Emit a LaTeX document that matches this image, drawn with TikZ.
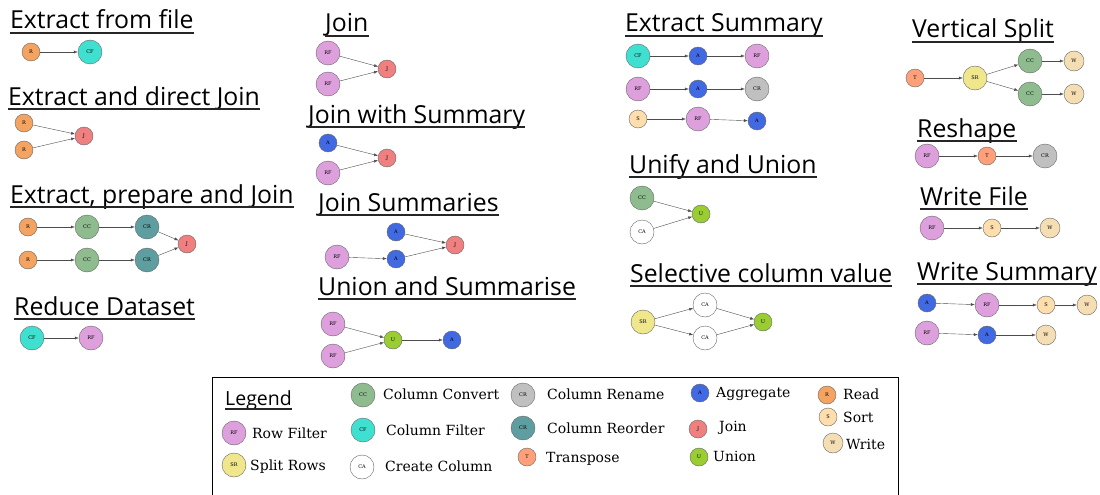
\documentclass[tikz,border=0pt]{standalone}
\usepackage{fontspec}
\setmainfont{DejaVu Serif}
\newfontfamily\headfont{Open Sans}
\usetikzlibrary{arrows.meta}
\definecolor{readC}{RGB}{244,164,96}
\definecolor{filterC}{RGB}{64,224,208}
\definecolor{joinC}{RGB}{240,128,128}
\definecolor{convC}{RGB}{143,188,143}
\definecolor{reordC}{RGB}{95,158,160}
\definecolor{rowC}{RGB}{221,160,221}
\definecolor{aggC}{RGB}{65,105,225}
\definecolor{unionC}{RGB}{154,205,50}
\definecolor{renC}{RGB}{192,192,192}
\definecolor{sortC}{RGB}{255,222,173}
\definecolor{writeC}{RGB}{245,222,179}
\definecolor{transC}{RGB}{255,160,122}
\definecolor{splitC}{RGB}{240,230,140}
\newcommand{\Heading}[5]{%
  \node[heading, font=\headfont\fontsize{#5}{#5}\selectfont] (#1) at (#2,#3) {#4};
  \draw[uline] ([yshift=-4pt]#1.base west) -- ([yshift=-4pt]#1.base east);}

\begin{document}
\begin{tikzpicture}[x=1pt, y=-1pt,
    heading/.style={anchor=base west, inner sep=0pt},
    uline/.style={line width=1.6pt, black!85},
    op/.style={circle, draw=black!60, line width=0.4pt, inner sep=0pt, font=\fontsize{5}{5}\selectfont},
    big/.style={op, minimum size=24pt},
    small/.style={op, minimum size=18pt},
    nR/.style={small, fill=readC},
    nCF/.style={big, fill=filterC},
    nJ/.style={small, fill=joinC},
    nCC/.style={big, fill=convC},
    nCRt/.style={big, fill=reordC},
    nCRg/.style={big, fill=renC},
    nRF/.style={big, fill=rowC},
    nA/.style={small, fill=aggC},
    nU/.style={small, fill=unionC},
    nS/.style={small, fill=sortC},
    nW/.style={op, minimum size=20pt, fill=writeC},
    nT/.style={small, fill=transC},
    nSR/.style={big, fill=splitC},
    nCA/.style={big, fill=white},
    flow/.style={-{Latex[length=4pt,width=3pt]}, black!70, line width=0.4pt},
    key/.style={anchor=base west, inner sep=0pt, font=\fontsize{14}{16}\selectfont}]
\useasboundingbox (0,0) rectangle (1100,495);

% left column
\Heading{h1}{10}{29}{Extract from file}{24.8}
\node[nR] (ef1) at (31,52) {R};
\node[nCF] (ef2) at (90,52) {CF};
\draw[flow] (ef1) -- (ef2);

\Heading{h2}{8}{105}{Extract and direct Join}{24.8}
\node[nR] (ej1) at (24,123) {R};
\node[nR] (ej2) at (24,150) {R};
\node[nJ] (ej3) at (84,136) {J};
\draw[flow] (ej1) -- (ej3);
\draw[flow] (ej2) -- (ej3);

\Heading{h3}{10}{203}{Extract, prepare and Join}{24.8}
\node[nR] (ep1) at (28,227) {R};
\node[nCC] (ep2) at (87,227) {CC};
\node[nCRt] (ep3) at (147,227) {CR};
\node[nR] (ep4) at (28,260) {R};
\node[nCC] (ep5) at (87,260) {CC};
\node[nCRt] (ep6) at (147,260) {CR};
\node[nJ] (ep7) at (187,244) {J};
\draw[flow] (ep1) -- (ep2);
\draw[flow] (ep2) -- (ep3);
\draw[flow] (ep4) -- (ep5);
\draw[flow] (ep5) -- (ep6);
\draw[flow] (ep3) -- (ep7);
\draw[flow] (ep6) -- (ep7);

\Heading{h4}{14}{315}{Reduce Dataset}{24.8}
\node[nCF] (rd1) at (32,338) {CF};
\node[nRF] (rd2) at (91,338) {RF};
\draw[flow] (rd1) -- (rd2);

% second column
\Heading{h5}{325}{32}{Join}{24.8}
\node[nRF] (jo1) at (328,53) {RF};
\node[nRF] (jo2) at (328,84) {RF};
\node[nJ] (jo3) at (387,69) {J};
\draw[flow] (jo1) -- (jo3);
\draw[flow] (jo2) -- (jo3);

\Heading{h6}{308}{123}{Join with Summary}{24.8}
\node[nA] (js1) at (328,143) {A};
\node[nRF] (js2) at (328,173) {RF};
\node[nJ] (js3) at (387,158) {J};
\draw[flow] (js1) -- (js3);
\draw[flow] (js2) -- (js3);

\Heading{h7}{318}{211}{Join Summaries}{24.8}
\node[nRF] (jm1) at (337,257) {RF};
\node[nA] (jm2) at (396,232) {A};
\node[nA] (jm3) at (396,259) {A};
\node[nJ] (jm4) at (455,245) {J};
\draw[flow] (jm1) -- (jm3);
\draw[flow] (jm2) -- (jm4);
\draw[flow] (jm3) -- (jm4);

\Heading{h8}{318}{295}{Union and Summarise}{24.8}
\node[nRF] (us1) at (333,324) {RF};
\node[nRF] (us2) at (333,356) {RF};
\node[nU] (us3) at (393,340) {U};
\node[nA] (us4) at (452,340) {A};
\draw[flow] (us1) -- (us3);
\draw[flow] (us2) -- (us3);
\draw[flow] (us3) -- (us4);

% third column
\Heading{h9}{625}{32}{Extract Summary}{24.8}
\node[nCF] (es1) at (638,56) {CF};
\node[nA] (es2) at (698,56) {A};
\node[nRF] (es3) at (757,56) {RF};
\node[nRF] (es4) at (638,89) {RF};
\node[nA] (es5) at (698,89) {A};
\node[nCRg] (es6) at (757,89) {CR};
\node[nS] (es7) at (638,119) {S};
\node[nRF] (es8) at (698,119) {RF};
\node[nA] (es9) at (757,121) {A};
\draw[flow] (es1) -- (es2);
\draw[flow] (es2) -- (es3);
\draw[flow] (es4) -- (es5);
\draw[flow] (es5) -- (es6);
\draw[flow] (es7) -- (es8);
\draw[flow] (es8) -- (es9);

\Heading{h10}{629}{173}{Unify and Union}{24.8}
\node[nCC] (uu1) at (642,198) {CC};
\node[nCA] (uu2) at (642,232) {CA};
\node[nU] (uu3) at (701,214) {U};
\draw[flow] (uu1) -- (uu3);
\draw[flow] (uu2) -- (uu3);

\Heading{h11}{630}{282}{Selective column value}{24.8}
\node[nSR] (sc1) at (643,322) {SR};
\node[nCA] (sc2) at (705,305) {CA};
\node[nCA] (sc3) at (705,338) {CA};
\node[nU] (sc4) at (763,322) {U};
\draw[flow] (sc1) -- (sc2);
\draw[flow] (sc1) -- (sc3);
\draw[flow] (sc2) -- (sc4);
\draw[flow] (sc3) -- (sc4);

% fourth column
\Heading{h12}{912}{38}{Vertical Split}{24.8}
\node[nT] (vs1) at (915,78) {T};
\node[nSR] (vs2) at (975,78) {SR};
\node[nCC] (vs3) at (1030,61) {CC};
\node[nCC] (vs4) at (1030,94) {CC};
\node[nW] (vs5) at (1074,61) {W};
\node[nW] (vs6) at (1074,94) {W};
\draw[flow] (vs1) -- (vs2);
\draw[flow] (vs2) -- (vs3);
\draw[flow] (vs2) -- (vs4);
\draw[flow] (vs3) -- (vs5);
\draw[flow] (vs4) -- (vs6);

\Heading{h13}{917}{137}{Reshape}{24.8}
\node[nRF] (rs1) at (927,156) {RF};
\node[nT] (rs2) at (987,156) {T};
\node[nCRg] (rs3) at (1045,156) {CR};
\draw[flow] (rs1) -- (rs2);
\draw[flow] (rs2) -- (rs3);

\Heading{h14}{920}{205}{Write File}{24.8}
\node[nRF] (wf1) at (932,228) {RF};
\node[nS] (wf2) at (992,228) {S};
\node[nW] (wf3) at (1050,228) {W};
\draw[flow] (wf1) -- (wf2);
\draw[flow] (wf2) -- (wf3);

\Heading{h15}{917}{280}{Write Summary}{24.8}
\node[nA] (ws1) at (927,303) {A};
\node[nRF] (ws2) at (987,305) {RF};
\node[nS] (ws3) at (1046,305) {S};
\node[nW] (ws4) at (1087,305) {W};
\node[nRF] (ws5) at (927,333) {RF};
\node[nA] (ws6) at (987,335) {A};
\node[nW] (ws7) at (1046,335) {W};
\draw[flow] (ws1) -- (ws2);
\draw[flow] (ws2) -- (ws3);
\draw[flow] (ws3) -- (ws4);
\draw[flow] (ws5) -- (ws6);
\draw[flow] (ws6) -- (ws7);

% legend
\draw[line width=0.8pt] (212,496) -- (212,377) -- (898,377) -- (898,496);
\Heading{lg}{225}{405}{Legend}{19.5}
\node[nRF] (l1) at (234,433) {RF};
\node[key] at (252,438) {Row Filter};
\node[nSR] (l2) at (234,465) {SR};
\node[key] at (250,470) {Split Rows};
\node[nCC] (l3) at (363,395) {CC};
\node[key] at (383,399) {Column Convert};
\node[nCF] (l4) at (363,430) {CF};
\node[key] at (386,435) {Column Filter};
\node[nCA] (l5) at (362,467) {CA};
\node[key] at (385,471) {Create Column};
\node[nCRg] (l6) at (523,395) {CR};
\node[key] at (547,399) {Column Rename};
\node[nCRt] (l7) at (523,428) {CR};
\node[key] at (547,433) {Column Reorder};
\node[nT] (l8) at (527,457) {T};
\node[key] at (546,462) {Transpose};
\node[nA] (l9) at (700,393) {A};
\node[key] at (716,397) {Aggregate};
\node[nJ] (l10) at (698,429) {J};
\node[key] at (719,431) {Join};
\node[nU] (l11) at (699,457) {U};
\node[key] at (713,461) {Union};
\node[nR] (l12) at (827,395) {R};
\node[key] at (843,399) {Read};
\node[nS] (l13) at (828,417) {S};
\node[key] at (843,422) {Sort};
\node[nW] (l14) at (833,443) {W};
\node[key] at (846,449) {Write};
\end{tikzpicture}
\end{document}
